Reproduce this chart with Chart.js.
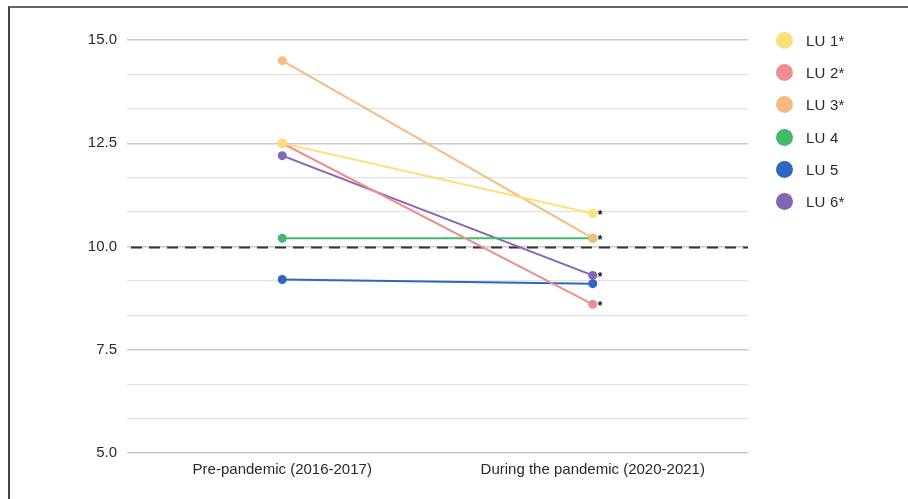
<!DOCTYPE html>
<html>
<head>
<meta charset="utf-8">
<script src="https://cdn.jsdelivr.net/npm/chart.js@4"></script>
<style>
  html, body { margin: 0; padding: 0; background: #fff; }
  #wrap { position: relative; width: 908px; height: 499px; overflow: hidden; }
  #frame { position: absolute; left: 8px; top: 6px; right: 0; bottom: 0;
    border-top: 2px solid #666; border-left: 2px solid #444; pointer-events: none; }
  #legend { position: absolute; left: 776px; top: 32px; font: 15px "Liberation Sans", Arial, sans-serif; color: #2a2a2a; }
  .item { height: 32.2px; display: flex; align-items: flex-start; }
  .dot { width: 17px; height: 17px; border-radius: 50%; margin-right: 13px; }
  .item span { line-height: 17px; letter-spacing: 0.2px; }
</style>
</head>
<body>
<div id="wrap">
  <canvas id="chart" width="908" height="499"></canvas>
  <div id="frame"></div>
  <div id="legend"></div>
</div>
<script>
// data
const categories = ['Pre-pandemic (2016-2017)', 'During the pandemic (2020-2021)'];
const seriesNames = ['LU 1', 'LU 2', 'LU 3', 'LU 4', 'LU 5', 'LU 6'];
const starred = [true, true, true, false, false, true];
const lu1 = [12.5, 10.8];
const lu2 = [12.5, 8.6];
const lu3 = [14.5, 10.2];
const lu4 = [10.2, 10.2];
const lu5 = [9.2, 9.1];
const lu6 = [12.2, 9.3];
const majorTicks = [5, 7.5, 10, 12.5, 15];
const minorPerMajor = 2;
const threshold = 10;

const colors = ['#fce07c', '#ef8e8e', '#f8ba80', '#45b86b', '#2f66c2', '#8366b8'];
const values = [lu1, lu2, lu3, lu4, lu5, lu6];
const fontFamily = '"Liberation Sans", Arial, sans-serif';

const datasets = values.map((v, i) => ({
  label: seriesNames[i] + (starred[i] ? '*' : ''),
  data: v,
  borderColor: colors[i],
  backgroundColor: colors[i],
  borderWidth: 2,
  pointRadius: 4.5,
  pointHoverRadius: 4.5,
  pointBorderWidth: 0
}));

// majors plus minor lines between them
function buildTicks() {
  const out = [];
  for (let i = 0; i < majorTicks.length; i++) {
    out.push({ value: majorTicks[i], major: true });
    if (i < majorTicks.length - 1) {
      const step = (majorTicks[i + 1] - majorTicks[i]) / (minorPerMajor + 1);
      for (let k = 1; k <= minorPerMajor; k++) out.push({ value: majorTicks[i] + step * k, major: false });
    }
  }
  return out;
}
const isMajor = v => majorTicks.some(m => Math.abs(m - v) < 1e-6);

// dashed reference line, under the series
const thresholdLine = {
  id: 'thresholdLine',
  beforeDatasetsDraw(chart) {
    const { ctx, chartArea, scales } = chart;
    const y = Math.round(scales.y.getPixelForValue(threshold)) + 0.5;
    ctx.save();
    ctx.strokeStyle = '#333';
    ctx.lineWidth = 2;
    ctx.setLineDash([11, 7]);
    ctx.beginPath();
    ctx.moveTo(chartArea.left + 4, y);
    ctx.lineTo(chartArea.right, y);
    ctx.stroke();
    ctx.restore();
  }
};

// asterisks next to the last point of starred series
const stars = {
  id: 'stars',
  afterDatasetsDraw(chart) {
    const { ctx, scales } = chart;
    ctx.save();
    ctx.fillStyle = '#111';
    ctx.font = 'bold 12px ' + fontFamily;
    ctx.textBaseline = 'middle';
    values.forEach((v, i) => {
      if (!starred[i]) return;
      const last = v.length - 1;
      const x = scales.x.getPixelForValue(last);
      const y = scales.y.getPixelForValue(v[last]);
      ctx.fillText('*', x + 5, y + 2);
    });
    ctx.restore();
  }
};

new Chart(document.getElementById('chart'), {
  type: 'line',
  data: { labels: categories, datasets },
  options: {
    responsive: false,
    animation: false,
    layout: { padding: { top: 40, right: 160, left: 0, bottom: 0 } },
    plugins: { legend: { display: false }, tooltip: { enabled: false } },
    scales: {
      x: {
        offset: true,
        grid: { display: false, drawTicks: false },
        border: { display: false },
        ticks: { color: '#2a2a2a', font: { family: fontFamily, size: 15 }, padding: 8, maxRotation: 0 },
        afterFit: s => { s.height = 46; }
      },
      y: {
        min: 5, max: 15,
        afterBuildTicks: s => { s.ticks = buildTicks(); },
        afterFit: s => { s.width = 127; },
        grid: {
          drawTicks: false,
          color: c => isMajor(c.tick.value) ? '#c9c9c9' : '#e3e3e3',
          lineWidth: c => isMajor(c.tick.value) ? 1.5 : 1.2
        },
        border: { display: false },
        ticks: {
          autoSkip: false,
          padding: 10,
          color: '#2a2a2a',
          font: { family: fontFamily, size: 15 },
          callback: v => isMajor(v) ? v.toFixed(1) : ''
        }
      }
    }
  },
  plugins: [thresholdLine, stars]
});

// html legend
const legend = document.getElementById('legend');
datasets.forEach(d => {
  const row = document.createElement('div');
  row.className = 'item';
  row.innerHTML = `<div class="dot" style="background:${d.borderColor}"></div><span>${d.label}</span>`;
  legend.appendChild(row);
});
</script>
</body>
</html>
